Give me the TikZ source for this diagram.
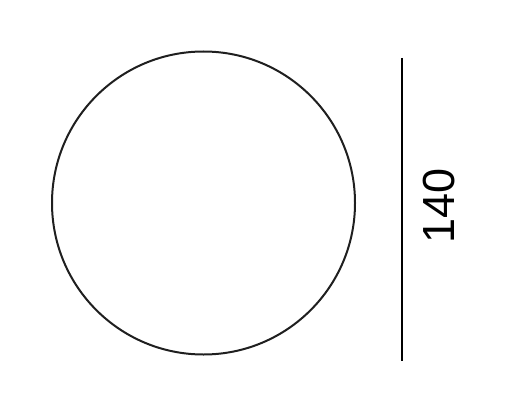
\documentclass[tikz,border=0pt]{standalone}
\usepackage{fontspec}
\setmainfont{Liberation Sans}
\usetikzlibrary{positioning}

\begin{document}
\begin{tikzpicture}[x=1pt,y=-1pt]
\tikzstyle{every node}+=[inner sep=0pt]
\useasboundingbox (0,0) rectangle (508,412);
\node [draw=black!88, line width=2pt, circle, minimum size=303pt] (disc) at (203.5,203) {};
\coordinate (top) at (402,58);
\coordinate (bot) at (402,361);
\draw [black, line width=1.5pt] (top) -- (bot);
\node [rotate=90, font=\fontsize{45}{45}\selectfont] (dim) at (439.5,206) {140};
\end{tikzpicture}
\end{document}
